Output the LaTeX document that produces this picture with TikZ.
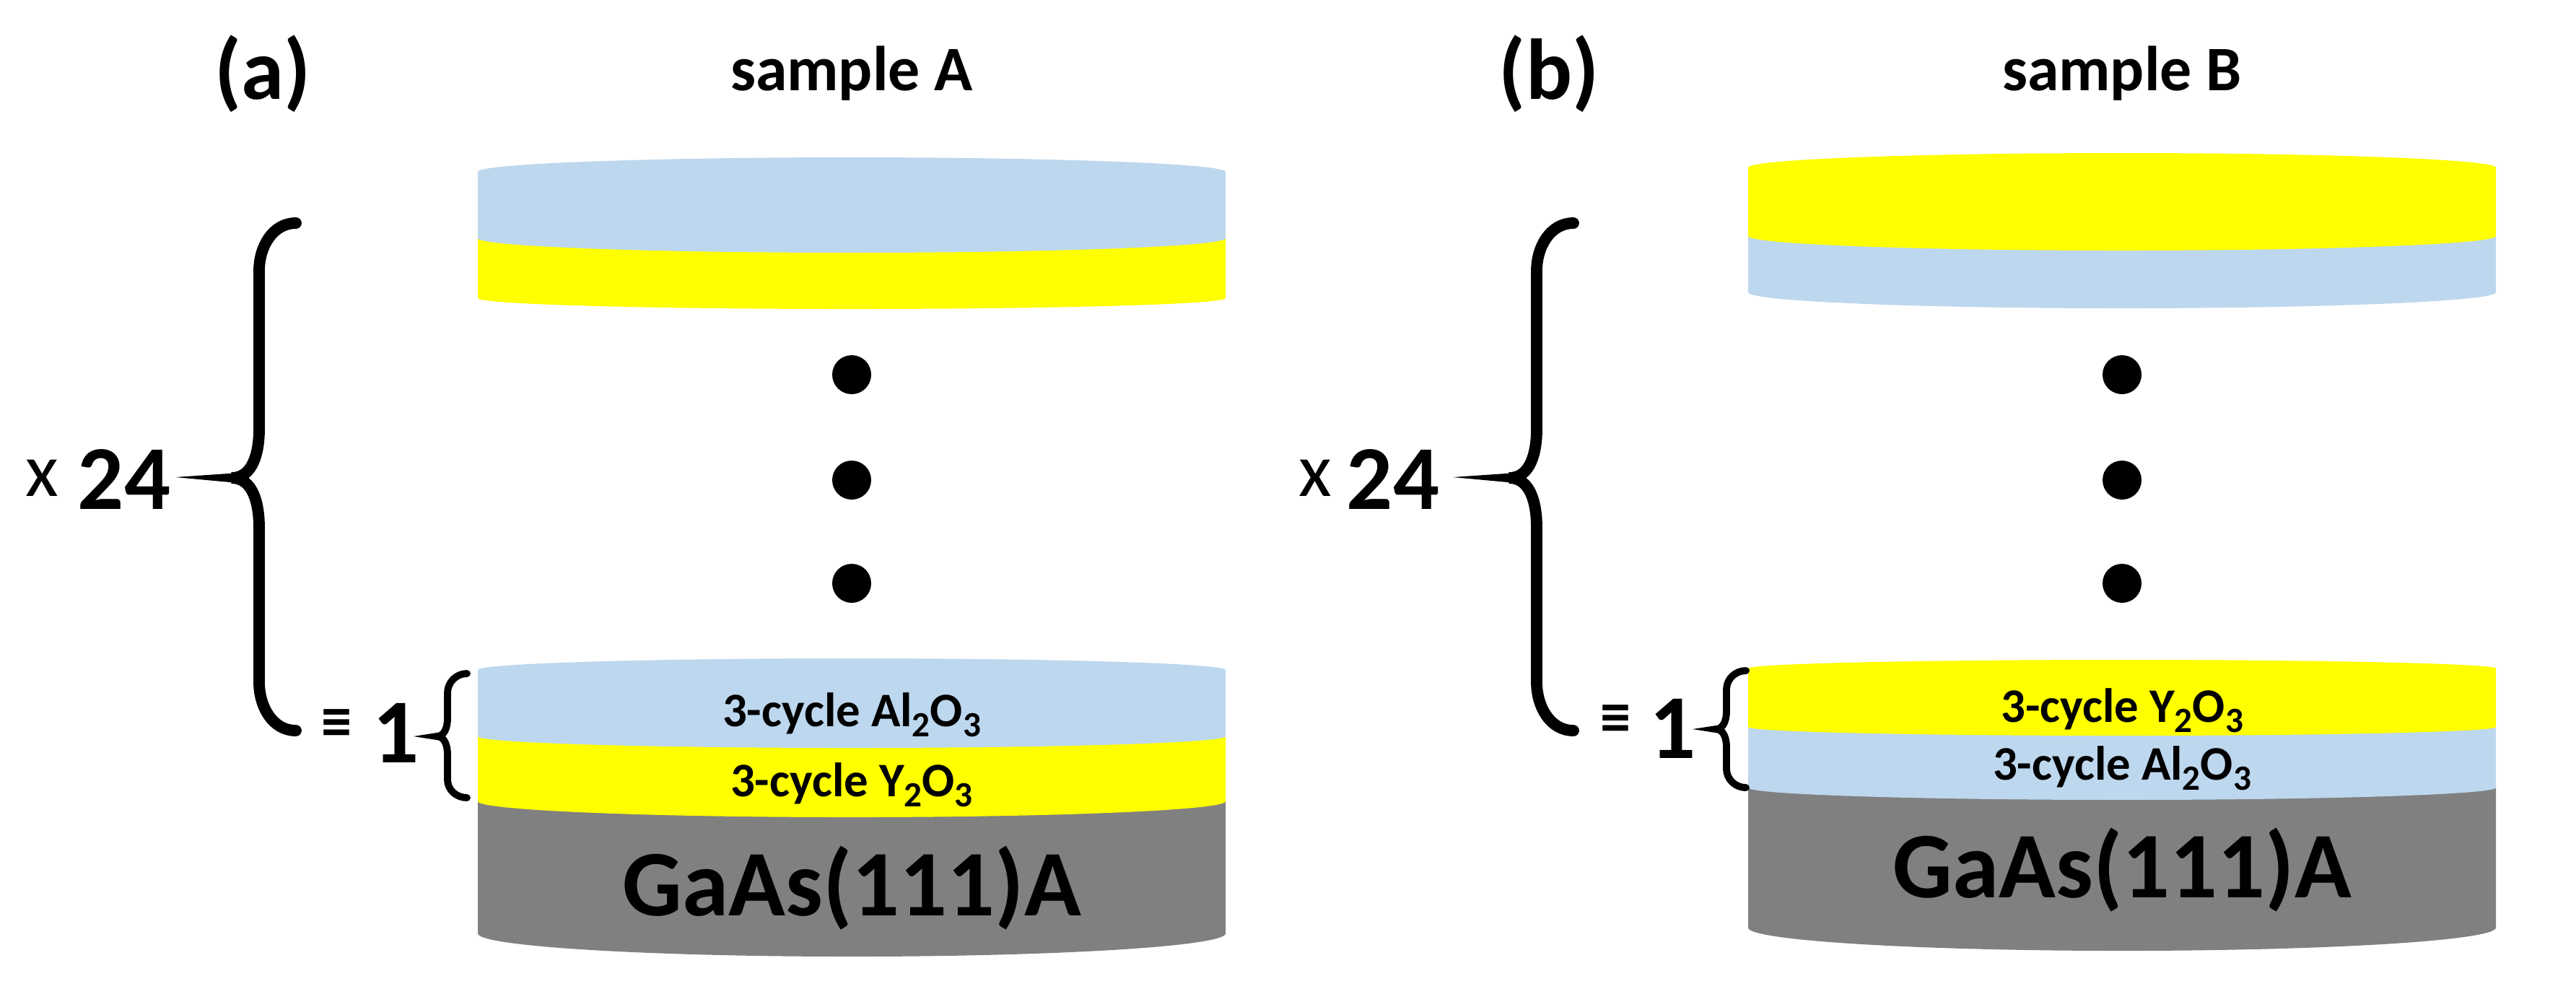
\documentclass[tikz,border=0pt]{standalone}
\usepackage{fontspec}
\setmainfont{Carlito}
\usepackage{tikz}
\definecolor{alox}{HTML}{BDD7EE}
\definecolor{yox}{HTML}{FFFF00}
\definecolor{gaas}{HTML}{808080}
\tikzset{brace/.style={line width=4.5pt, line cap=round}}
\tikzset{smallbrace/.style={line width=2.8pt, line cap=round}}
\tikzset{lbl/.style={inner sep=0pt, font=\bfseries}}
% #1 centre x, #2 top y, #3 bottom y, #4 ellipse radius y, #5 colour
\newcommand{\layer}[5]{\fill[#5] (#1-5.18,#2) -- (#1-5.18,#3) arc (180:360:5.18 and #4) -- (#1+5.18,#2) arc (0:180:5.18 and #4) -- cycle;}
\newcommand{\sub}[1]{\raisebox{-0.45ex}{\fontsize{14}{16}\selectfont #1}}

\begin{document}
\begin{tikzpicture}
\useasboundingbox (0,0) rectangle (35.69,-13.87);

%% sample A
\layer{11.80}{-11.10}{-12.93}{0.32}{gaas}
\layer{11.80}{-10.20}{-11.10}{0.22}{yox}
\layer{11.80}{-9.28}{-10.20}{0.16}{alox}
\layer{11.80}{-3.30}{-4.13}{0.15}{yox}
\layer{11.80}{-2.38}{-3.30}{0.20}{alox}
\foreach \y/\n in {5.19/a1,6.65/a2,8.08/a3}
  \fill (11.80,-\y) circle (0.27);

\node[lbl, font=\bfseries\fontsize{34}{40}\selectfont] (taga) at (3.64,-1.02) {(a)};
\node[lbl, font=\bfseries\fontsize{25}{30}\selectfont] (titlea) at (11.80,-1.02) {sample A};
\node[lbl, font=\bfseries\fontsize{19}{22}\selectfont] (ala) at (11.80,-9.90) {3-cycle Al\sub{2}O\sub{3}};
\node[lbl, font=\bfseries\fontsize{19}{22}\selectfont] (ya) at (11.80,-10.87) {3-cycle Y\sub{2}O\sub{3}};
\node[lbl, font=\bfseries\fontsize{37}{44}\selectfont] (subsa) at (11.80,-12.30) {GaAs(111)A};
\node[inner sep=0pt, font=\fontsize{30}{36}\selectfont] (xa) at (0.58,-6.62) {x};
\node[lbl, font=\bfseries\fontsize{36}{42}\selectfont] (na) at (1.72,-6.64) {24};
\node[lbl, font=\bfseries\fontsize{24}{28}\selectfont] (eqa) at (4.66,-10.05) {≡};
\node[lbl, font=\bfseries\fontsize{36}{42}\selectfont] (onea) at (5.49,-10.15) {1};

\draw[brace] (4.10,-3.09) to[out=180,in=90] (3.59,-3.75) -- (3.59,-5.95)
  to[out=-90,in=0] (3.21,-6.62) to[out=0,in=90] (3.59,-7.30) -- (3.59,-9.45)
  to[out=-90,in=180] (4.10,-10.12);
\fill (3.30,-6.55) -- (2.43,-6.61) -- (3.30,-6.69) -- cycle;
\draw[smallbrace] (6.47,-9.33) to[out=180,in=90] (6.20,-9.60) -- (6.20,-9.95)
  to[out=-90,in=0] (6.05,-10.20) to[out=0,in=90] (6.20,-10.45) -- (6.20,-10.80)
  to[out=-90,in=180] (6.47,-11.05);

%% sample B
\layer{29.40}{-10.91}{-12.85}{0.32}{gaas}
\layer{29.40}{-10.07}{-10.91}{0.17}{alox}
\layer{29.40}{-9.26}{-10.07}{0.12}{yox}
\layer{29.40}{-3.27}{-4.05}{0.22}{alox}
\layer{29.40}{-2.32}{-3.27}{0.20}{yox}
\foreach \y/\n in {5.19/b1,6.65/b2,8.08/b3}
  \fill (29.40,-\y) circle (0.27);

\node[lbl, font=\bfseries\fontsize{34}{40}\selectfont] (tagb) at (21.46,-1.02) {(b)};
\node[lbl, font=\bfseries\fontsize{25}{30}\selectfont] (titleb) at (29.40,-1.02) {sample B};
\node[lbl, font=\bfseries\fontsize{19}{22}\selectfont] (yb) at (29.40,-9.84) {3-cycle Y\sub{2}O\sub{3}};
\node[lbl, font=\bfseries\fontsize{19}{22}\selectfont] (alb) at (29.40,-10.64) {3-cycle Al\sub{2}O\sub{3}};
\node[lbl, font=\bfseries\fontsize{37}{44}\selectfont] (subsb) at (29.40,-12.05) {GaAs(111)A};
\node[inner sep=0pt, font=\fontsize{30}{36}\selectfont] (xb) at (18.22,-6.62) {x};
\node[lbl, font=\bfseries\fontsize{36}{42}\selectfont] (nb) at (19.30,-6.64) {24};
\node[lbl, font=\bfseries\fontsize{24}{28}\selectfont] (eqb) at (22.38,-9.99) {≡};
\node[lbl, font=\bfseries\fontsize{36}{42}\selectfont] (oneb) at (23.18,-10.09) {1};

\draw[brace] (21.80,-3.09) to[out=180,in=90] (21.29,-3.75) -- (21.29,-5.95)
  to[out=-90,in=0] (20.91,-6.62) to[out=0,in=90] (21.29,-7.30) -- (21.29,-9.45)
  to[out=-90,in=180] (21.80,-10.12);
\fill (21.00,-6.55) -- (20.13,-6.61) -- (21.00,-6.69) -- cycle;
\draw[smallbrace] (24.19,-9.29) to[out=180,in=90] (23.92,-9.55) -- (23.92,-9.85)
  to[out=-90,in=0] (23.77,-10.10) to[out=0,in=90] (23.92,-10.35) -- (23.92,-10.65)
  to[out=-90,in=180] (24.19,-10.91);
\end{tikzpicture}
\end{document}
